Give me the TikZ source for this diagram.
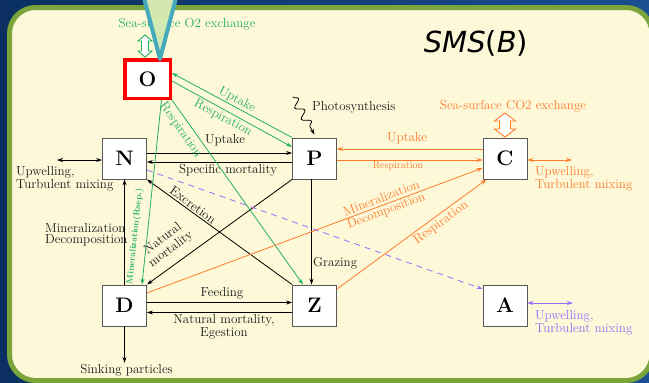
\documentclass[tikz,border=0pt]{standalone}
\usepackage{amsmath,amssymb}
\usepackage{xcolor}
\usepackage{fontspec}
\usepackage{tikz}
\usetikzlibrary{arrows.meta,decorations.pathmorphing}

\newfontfamily\titlefont{DejaVu Sans}

\definecolor{slidenavy}{HTML}{0A2F60}
\definecolor{slideblue}{HTML}{1B4E92}
\definecolor{panelgreen}{HTML}{7BA43A}
\definecolor{cream}{HTML}{FDF8D8}
\definecolor{pointerteal}{HTML}{45A9BC}
\definecolor{pointerfill}{HTML}{D3E8B1}
\definecolor{o2green}{HTML}{22B062}
\definecolor{co2orange}{HTML}{FF7B2C}
\definecolor{apurple}{HTML}{9B6BFF}

\begin{document}
\begin{tikzpicture}[x=1pt,y=-1pt,
    box/.style={draw=black!65, fill=white, line width=0.9pt, minimum width=44pt, minimum height=41pt, inner sep=0pt, font=\fontsize{21}{21}\selectfont\bfseries},
    lbl/.style={font=\fontsize{13}{13}\selectfont, text=black!90, inner sep=1pt, align=center},
    smalllbl/.style={font=\fontsize{10}{10}\selectfont, inner sep=1pt},
    flow/.style={-{Stealth[length=6pt,width=4pt]}, line width=0.8pt},
    mixing/.style={{Stealth[length=6pt,width=4pt]}-{Stealth[length=6pt,width=4pt]}, line width=0.8pt},
    hollow/.style={fill=white, line width=0.9pt, line join=miter}]
  \useasboundingbox (0,0) rectangle (649,383);

  % slide background and panel
  \shade[left color=slidenavy, right color=slideblue] (0,0) rectangle (649,383);
  \draw[panelgreen, line width=5pt, fill=cream, rounded corners=26pt] (9.5,7.5) rectangle (652,380.5);
  \node[font=\titlefont\fontsize{29}{29}\selectfont] (title) at (476,43) {\textit{SMS}(\textit{B})};

  % compartments
  \node[box, draw=red, line width=3.5pt, minimum width=45.5pt, minimum height=38.5pt] (O) at (147.5,79) {O};
  \node[box] (N) at (124.5,158.5) {N};
  \node[box] (P) at (314.5,158.5) {P};
  \node[box] (C) at (505,158.5) {C};
  \node[box] (D) at (124.5,305.5) {D};
  \node[box] (Z) at (314.5,305.5) {Z};
  \node[box] (A) at (505,305.5) {A};

  % nitrogen fluxes
  \draw[flow] ([yshift=5.5pt]N.east) -- ([yshift=5.5pt]P.west);
  \draw[flow] ([yshift=-3.5pt]P.west) -- ([yshift=-3.5pt]N.east);
  \draw[flow] (D) -- (N);
  \draw[flow] (Z.north west) -- (N.south east);
  \draw[flow] (P.south west) -- (D.north east);
  \draw[flow] ([xshift=-3pt]P.south) -- ([xshift=-3pt]Z.north);
  \draw[flow] ([yshift=3pt]D.east) -- ([yshift=3pt]Z.west);
  \draw[flow] ([yshift=-7pt]Z.west) -- ([yshift=-7pt]D.east);
  \node[lbl] (sink) at (126.5,370) {Sinking particles};
  \draw[flow] (D.south) -- (D.south |- sink.north);
  \coordinate (nmix) at (57,160);
  \draw[mixing] (nmix) -- ([yshift=-1.5pt]N.west);
  \node[lbl, align=left, anchor=west] (nmixlbl) at (15,178.5) {Upwelling,\\Turbulent mixing};
  \node[lbl, anchor=west] (photo) at (311,107) {Photosynthesis};
  \coordinate (sun) at (293,97);
  \draw[flow, decorate, decoration={snake, amplitude=4pt, segment length=13pt, post length=5pt}] (sun) -- ([yshift=3pt]P.north);

  \node[lbl] (uplbl) at (225,140) {Uptake};
  \node[lbl] (mortlbl) at (228,170) {Specific mortality};
  \node[lbl, align=left, anchor=west] (minlbl) at (44,234.5) {Mineralization\\[-1.5pt]Decomposition};
  \node[lbl, rotate=-36] (exclbl) at (193,205) {Excretion};
  \node[lbl, rotate=37] (natlbl) at (167,244) {Natural\\mortality};
  \node[lbl, anchor=west] (grazlbl) at (312,263) {Grazing};
  \node[lbl] (feedlbl) at (222,293) {Feeding};
  \node[lbl] (egestlbl) at (224,326.5) {Natural mortality,\\Egestion};

  % oxygen fluxes
  \node[lbl, text=o2green] (o2lbl) at (187,24) {Sea-surface O2 exchange};
  \draw[o2green, hollow] (145,35) -- (152,41) -- (148.5,41) -- (148.5,51) -- (152,51) -- (145,57)
    -- (138,51) -- (141.5,51) -- (141.5,41) -- (138,41) -- cycle;
  \draw[flow, o2green] (P.north west) -- ([yshift=6pt]O.east);
  \draw[flow, o2green] ([yshift=-2pt]O.east) -- ([yshift=11.5pt]P.west);
  \draw[flow, o2green] (O.south east) -- ([xshift=-11.5pt]Z.north);
  \draw[flow, o2green] ([xshift=14pt]O.south) -- ([xshift=17.5pt]D.north);
  \node[lbl, text=o2green, rotate=-28.4] (o2up) at (237,100) {Uptake};
  \node[lbl, text=o2green, rotate=-28.4] (o2resp) at (223,118) {Respiration};
  \node[lbl, text=o2green, rotate=-55] (o2resp2) at (180.5,130) {Respiration};
  \node[font=\fontsize{8.5}{8.5}\selectfont\bfseries, text=o2green, rotate=84, inner sep=1pt] (o2min) at (135,236) {Mineralization(Rsep.)};

  % carbon fluxes
  \node[lbl, text=co2orange] (co2lbl) at (513,106) {Sea-surface CO2 exchange};
  \draw[co2orange, hollow] (505,113) -- (515.5,121) -- (510.5,121) -- (510.5,129) -- (515.5,129) -- (505,137)
    -- (494.5,129) -- (499.5,129) -- (499.5,121) -- (494.5,121) -- cycle;
  \draw[flow, co2orange] ([yshift=9.5pt]C.west) -- ([yshift=9.5pt]P.east);
  \draw[flow, co2orange] ([yshift=-1.5pt]P.east) -- ([yshift=-1.5pt]C.west);
  \draw[flow, co2orange] ([yshift=12.5pt]D.east) -- ([yshift=-9.5pt]C.west);
  \draw[flow, co2orange] ([yshift=16.5pt]Z.east) -- ([xshift=4pt]C.south west);
  \coordinate (cmix) at (572,160);
  \draw[mixing, co2orange] ([yshift=-1.5pt]C.east) -- (cmix);
  \node[lbl, text=co2orange] (cup) at (407,138) {Uptake};
  \node[smalllbl, text=co2orange] (cresp) at (398,166) {Respiration};
  \node[lbl, text=co2orange, rotate=20.5] (cmin) at (384,205) {Mineralization\\Decomposition};
  \node[lbl, text=co2orange, rotate=36] (cresp2) at (441,223) {Respiration};
  \node[lbl, text=co2orange, align=left, anchor=west] (cmixlbl) at (534,178.5) {Upwelling,\\Turbulent mixing};

  % alkalinity
  \draw[flow, apurple, dash pattern=on 6pt off 5pt] ([yshift=-11.5pt]N.east) -- ([yshift=16.5pt]A.west);
  \coordinate (amix) at (573,303);
  \draw[mixing, apurple] ([yshift=2.5pt]A.east) -- (amix);
  \node[lbl, text=apurple, align=left, anchor=west] (amixlbl) at (534,323) {Upwelling,\\Turbulent mixing};

  % callout pointer
  \draw[pointerteal, fill=pointerfill, line width=4pt, line join=round] (143,-6) -- (160,59) -- (177,-6);
\end{tikzpicture}
\end{document}
